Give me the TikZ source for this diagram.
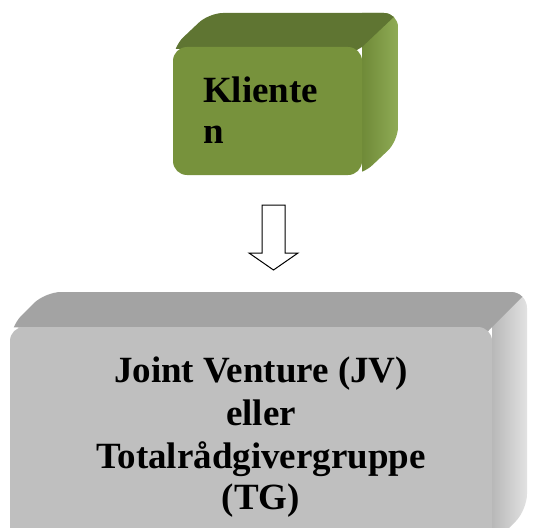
\documentclass[tikz,border=0pt]{standalone}
\usepackage{fontspec}
\setmainfont{Liberation Serif}
\usetikzlibrary{calc}
\definecolor{gfront}{HTML}{77923C}
\definecolor{gtop}{HTML}{5F7532}
\definecolor{gsideA}{HTML}{6F8A38}
\definecolor{gsideB}{HTML}{8FAB55}
\definecolor{sfront}{HTML}{BFBFBF}
\definecolor{stop}{HTML}{A3A3A3}
\definecolor{ssideA}{HTML}{B8B8B8}
\definecolor{ssideB}{HTML}{E2E2E2}
\tikzset{
  boxtext/.style={font=\bfseries\fontsize{37}{42}\selectfont, inner sep=0pt},
  frontface/.style={rounded corners=14pt, inner sep=0pt, draw=none},
  blockarrow/.style={draw=black, line width=1pt, fill=white, line join=miter}
}
\begin{document}
\begin{tikzpicture}[x=1pt,y=-1pt]
\useasboundingbox (0,0) rectangle (535,527);
\clip (0,0) rectangle (535,527);

% ---------- green box (Klienten) ----------
\begin{scope}
  \clip[rounded corners=14pt] (173,47) -- (209,13) -- (398,13) -- (398,141) -- (362,175) -- (173,175) -- cycle;
  \shade[left color=gsideA, right color=gsideB] (362,0) rectangle (398,200);
  \fill[gtop] (150,47) -- (173,47) -- (209,13) -- (398,13) -- (362,47) -- (340,60) -- cycle;
\end{scope}
\node[frontface, fill=gfront, minimum width=189pt, minimum height=128pt] (kl) at (267.5,111) {};
\node[boxtext, anchor=base west] (kltxt1) at (203,102) {Kliente};
\node[boxtext, anchor=base west] (kltxt2) at (203,143) {n};

% ---------- gray box (JV / TG) ----------
\begin{scope}
  \clip[rounded corners=16pt] (10,327) -- (45,292) -- (527,292) -- (527,510) -- (492,545) -- (10,545) -- cycle;
  \shade[left color=ssideA, right color=ssideB] (492,280) rectangle (527,560);
  \fill[stop] (0,327) -- (10,327) -- (45,292) -- (527,292) -- (492,327) -- (480,340) -- cycle;
\end{scope}
\node[frontface, fill=sfront, minimum width=482pt, minimum height=250pt] (tg) at (251,452) {};
\node[boxtext, anchor=base] (tgtxt1) at (261,382) {Joint Venture (JV)};
\node[boxtext, anchor=base] (tgtxt2) at (261,425) {eller};
\node[boxtext, anchor=base] (tgtxt3) at (261,468) {Totalrådgivergruppe};
\node[boxtext, anchor=base] (tgtxt4) at (261,509) {(TG)};

% ---------- block arrow ----------
\coordinate (atop) at (273.5,205);
\coordinate (atip) at (273.5,270);
\draw[blockarrow] ($(atop)+(-11.5,0)$) -- ($(atop)+(11.5,0)$) -- ($(atip)+(11.5,-17)$) -- ($(atip)+(24.5,-17)$) -- (atip) -- ($(atip)+(-24.5,-17)$) -- ($(atip)+(-11.5,-17)$) -- cycle;
\end{tikzpicture}
\end{document}
